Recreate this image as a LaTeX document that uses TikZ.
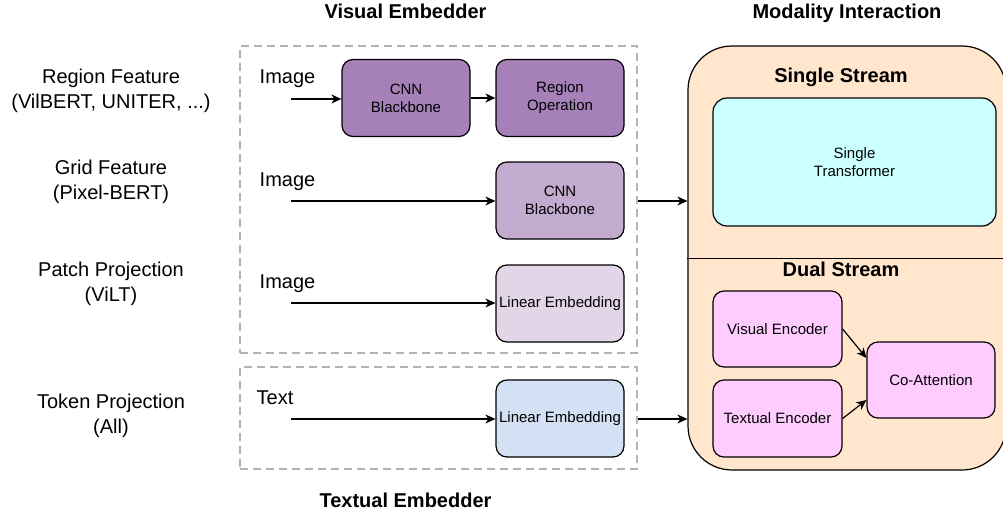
\documentclass[tikz,border=0pt]{standalone}
\usepackage{fontspec}
\setmainfont{Liberation Sans}
\usetikzlibrary{arrows.meta}

\definecolor{regionfill}{HTML}{A680B8}
\definecolor{gridfill}{HTML}{C3ABD0}
\definecolor{patchfill}{HTML}{E1D5E7}
\definecolor{tokenfill}{HTML}{D4E1F5}
\definecolor{modfill}{HTML}{FFE6CC}
\definecolor{singlefill}{HTML}{CCFFFF}
\definecolor{dualfill}{HTML}{FFCCFF}
\definecolor{framegray}{HTML}{B3B3B3}

\begin{document}
\begin{tikzpicture}[x=1pt,y=-1pt,
  heading/.style={font=\fontsize{20}{24}\selectfont\bfseries, inner sep=0pt, anchor=base},
  sidelabel/.style={font=\fontsize{20}{25}\selectfont, align=center, inner sep=0pt},
  inputlabel/.style={font=\fontsize{20}{24}\selectfont, inner sep=0pt, anchor=base},
  block/.style={draw=black, line width=1.2pt, rounded corners=11pt, align=center,
    minimum width=128pt, minimum height=77pt, inner sep=0pt,
    font=\fontsize{15}{18}\selectfont},
  groupframe/.style={draw=framegray, line width=2pt, dash pattern=on 8pt off 5pt,
    minimum width=397pt, inner sep=0pt},
  flow/.style={line width=1.2pt, -{Stealth[length=10pt,width=9pt,inset=3pt]}}
]
\useasboundingbox (0,0) rectangle (1003,516);

% column headings
\node[heading] (hvis) at (405.5,19) {Visual Embedder};
\node[heading] (hmod) at (847,19) {Modality Interaction};
\node[heading] (htxt) at (405.5,507) {Textual Embedder};

% feature types on the left
\node[sidelabel] (lregion) at (111,91) {Region Feature\\(VilBERT, UNITER, ...)};
\node[sidelabel] (lgrid)   at (111,181.5) {Grid Feature\\(Pixel-BERT)};
\node[sidelabel] (lpatch)  at (111,284) {Patch Projection\\(ViLT)};
\node[sidelabel] (ltoken)  at (111,415.5) {Token Projection\\(All)};

% dashed embedder frames
\node[groupframe, minimum height=307pt] (vis) at (438.5,199.5) {};
\node[groupframe, minimum height=102pt] (txt) at (438.5,418) {};

% input labels
\node[inputlabel] (img1) at (287.5,84) {Image};
\node[inputlabel] (img2) at (287.5,186) {Image};
\node[inputlabel] (img3) at (287.5,288.5) {Image};
\node[inputlabel] (text) at (275,404) {Text};

% embedder blocks
\node[block, fill=regionfill] (cnn1)  at (406,98)    {CNN\\Blackbone};
\node[block, fill=regionfill] (regop) at (560,98)    {Region\\Operation};
\node[block, fill=gridfill]   (cnn2)  at (560,200.5) {CNN\\Blackbone};
\node[block, fill=patchfill]  (lin1)  at (560,303.5) {Linear Embedding};
\node[block, fill=tokenfill]  (lin2)  at (560,418.5) {Linear Embedding};

% arrow start points
\coordinate (in1) at (291,99);
\coordinate (in2) at (291,201);
\coordinate (in3) at (291,303);
\coordinate (in4) at (291,419);

% modality interaction panel (runs past the right edge)
\begin{scope}
  \clip (0,0) rectangle (1003,516);
  \node[draw=black, line width=1.2pt, fill=modfill, rounded corners=44pt,
        minimum width=318pt, minimum height=424pt, inner sep=0pt] (mod) at (847,258) {};
  \draw[line width=1pt] (mod.west) -- (mod.east);
\end{scope}

\node[heading] (hsingle) at (841,83) {Single Stream};
\node[heading] (hdual) at (841,276) {Dual Stream};

\node[block, fill=singlefill, rounded corners=14pt, minimum width=283pt, minimum height=128pt]
  (single) at (854.5,162) {Single\\Transformer};

\node[block, fill=dualfill, minimum width=129pt, minimum height=76pt] (venc) at (777.5,329) {Visual Encoder};
\node[block, fill=dualfill, minimum width=129pt, minimum height=77pt] (tenc) at (777.5,418.5) {Textual Encoder};
\node[block, fill=dualfill, minimum width=128pt, minimum height=76pt] (coatt) at (931,380) {Co-Attention};

% connectors
\draw[flow] (in1) -- (in1 -| cnn1.west);
\draw[flow] (cnn1.east) -- (regop.west);
\draw[flow] (in2) -- (in2 -| cnn2.west);
\draw[flow] (in3) -- (in3 -| lin1.west);
\draw[flow] (in4) -- (in4 -| lin2.west);
\draw[flow] (vis.east |- in2) -- (mod.west |- in2);
\draw[flow] (txt.east |- in4) -- (mod.west |- in4);
\draw[flow] (venc.east) -- ([yshift=22pt]coatt.west);
\draw[flow] (tenc.east) -- ([yshift=-20pt]coatt.west);

\end{tikzpicture}
\end{document}
